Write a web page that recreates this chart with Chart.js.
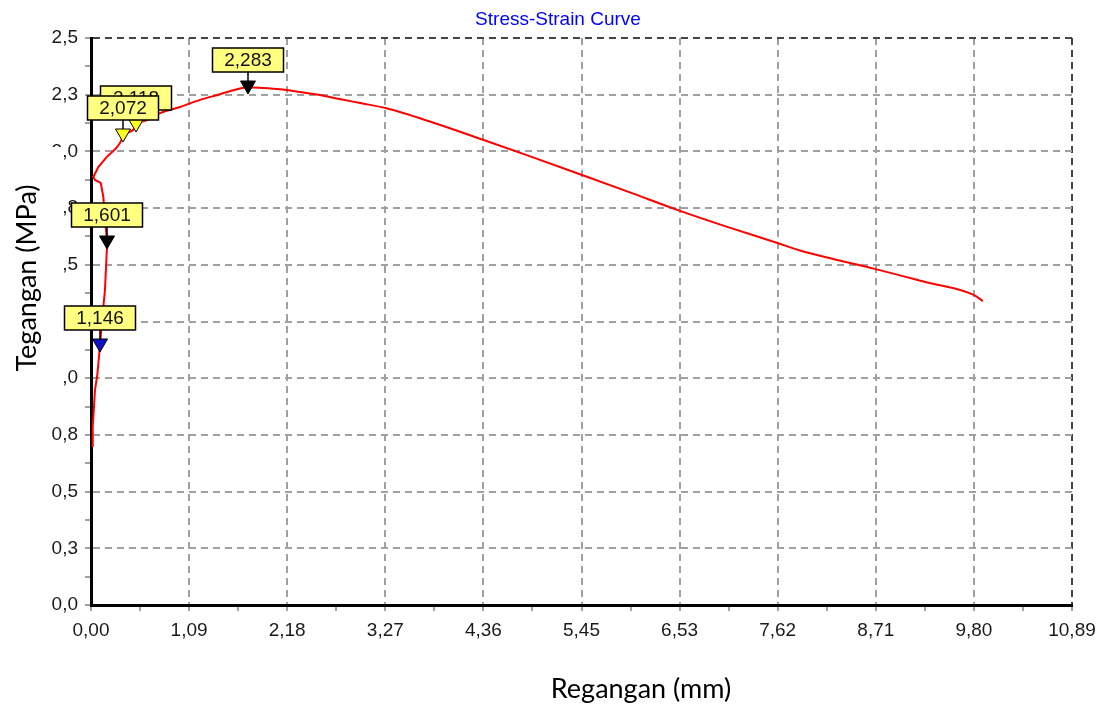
<!DOCTYPE html>
<html>
<head>
<meta charset="utf-8">
<title>Stress-Strain Curve</title>
<script src="https://cdn.jsdelivr.net/npm/chart.js@4.4.1/dist/chart.umd.min.js"></script>
<style>
  body { margin: 0; background: #fff; }
  #wrap { width: 1104px; height: 711px; }
</style>
</head>
<body>
<div id="wrap"><canvas id="stress_chart" width="1104" height="711"></canvas></div>
<script>
// elastic / yield part: strain (mm) vs stress (MPa), strain goes back and forth here
var riseStrain = [0.019, 0.019, 0.033, 0.044, 0.07, 0.092, 0.10, 0.119, 0.155, 0.18, 0.155, 0.137, 0.108, 0.044, 0.026, 0.081, 0.174];
var riseStress = [0.697, 0.785, 0.873, 0.948, 1.014, 1.111, 1.146, 1.243, 1.389, 1.601, 1.698, 1.799, 1.861, 1.874, 1.887, 1.931, 1.975];

// hardening and necking part, strain increasing
var mainStrain = [0.174, 0.322, 0.36, 0.466, 0.50, 0.62, 0.766, 0.988, 1.21, 1.43, 1.60, 1.74, 1.90, 2.10, 2.32, 2.54, 2.76, 2.99, 3.27, 3.81, 4.36, 4.90, 5.45, 5.99, 6.53, 7.08, 7.62, 7.87, 8.17, 8.71, 9.26, 9.80, 9.90];
var mainStress = [1.975, 2.037, 2.072, 2.094, 2.118, 2.138, 2.169, 2.196, 2.227, 2.252, 2.272, 2.283, 2.280, 2.274, 2.262, 2.249, 2.231, 2.213, 2.191, 2.125, 2.050, 1.975, 1.896, 1.818, 1.739, 1.665, 1.596, 1.563, 1.532, 1.481, 1.424, 1.367, 1.340];

// flagged points (drawn in this order)
var markerStrain = [0.10, 0.18, 0.50, 0.36, 1.74];
var markerStress = [1.146, 1.601, 2.118, 2.072, 2.283];
var markerFill = ['#1010c8', '#000000', '#ffff20', '#ffff20', '#000000'];

var xTickLabels = ['0,00', '1,09', '2,18', '3,27', '4,36', '5,45', '6,53', '7,62', '8,71', '9,80', '10,89'];
var yTickLabels = ['0,0', '0,3', '0,5', '0,8', '1,0', '1,3', '1,5', '1,8', '2,0', '2,3', '2,5'];

var tickFont = { family: 'Liberation Sans, Arial, sans-serif', size: 19 };

function fmt(v) {
  return v.toFixed(3).replace('.', ',');
}

function toPoints(xs, ys) {
  return xs.map(function(s, i) { return { x: s, y: ys[i] }; });
}

var markerPlugin = {
  id: 'markers',
  afterDatasetsDraw: function(chart) {
    var ctx = chart.ctx, xs = chart.scales.x, ys = chart.scales.y;
    ctx.save();
    ctx.font = '19px Liberation Sans, Arial, sans-serif';
    ctx.textAlign = 'center';
    ctx.textBaseline = 'middle';
    for (var i = 0; i < markerStress.length; i++) {
      var px = Math.round(xs.getPixelForValue(markerStrain[i]));
      var py = Math.round(ys.getPixelForValue(markerStress[i]));
      // label box
      var bw = 71, bh = 24, bx = px - 35.5, by = py - 15 - bh;
      ctx.fillStyle = '#ffff80';
      ctx.fillRect(bx, by, bw, bh);
      ctx.strokeStyle = '#000';
      ctx.lineWidth = 1.5;
      ctx.strokeRect(bx, by, bw, bh);
      ctx.fillStyle = '#111';
      ctx.fillText(fmt(markerStress[i]), px, by + bh / 2 + 1);
      // pointer
      ctx.beginPath();
      ctx.moveTo(px, by + bh);
      ctx.lineTo(px, py - 6);
      ctx.stroke();
      ctx.beginPath();
      ctx.moveTo(px - 7.5, py - 6);
      ctx.lineTo(px + 7.5, py - 6);
      ctx.lineTo(px, py + 7);
      ctx.closePath();
      ctx.fillStyle = markerFill[i];
      ctx.fill();
      ctx.lineWidth = 1;
      ctx.stroke();
    }
    ctx.restore();
  }
};

// chart title and axis captions (captions sit in white boxes over the chart)
var captionPlugin = {
  id: 'captions',
  afterDraw: function(chart) {
    var ctx = chart.ctx;
    ctx.save();
    ctx.textAlign = 'center';
    ctx.textBaseline = 'middle';
    ctx.fillStyle = '#0000ff';
    ctx.font = '19px Liberation Sans, Arial, sans-serif';
    ctx.fillText('Stress-Strain Curve', 558, 20);

    ctx.fillStyle = '#fff';
    ctx.fillRect(0, 147, 62, 248);
    ctx.fillStyle = '#000';
    ctx.font = '27px Lato, sans-serif';
    ctx.fillText('Regangan (mm)', 641, 689);
    ctx.translate(27, 278);
    ctx.rotate(-Math.PI / 2);
    ctx.fillText('Tegangan (MPa)', 0, 0);
    ctx.restore();
  }
};

function gridColor(c) {
  if (c.index % 2) return 'rgba(0,0,0,0)';
  return c.index === 20 ? '#444' : '#a0a0a0';
}

var stress_chart = new Chart(document.getElementById('stress_chart'), {
  type: 'scatter',
  data: {
    datasets: [{
      data: toPoints(riseStrain, riseStress),
      showLine: true,
      borderColor: '#ff0000',
      borderWidth: 2,
      pointRadius: 0,
      tension: 0
    }, {
      data: toPoints(mainStrain, mainStress),
      showLine: true,
      borderColor: '#ff0000',
      borderWidth: 2,
      pointRadius: 0,
      cubicInterpolationMode: 'monotone'
    }]
  },
  options: {
    responsive: false,
    animation: false,
    layout: { padding: { left: 0, right: 32, top: 38, bottom: 0 } },
    plugins: {
      legend: { display: false },
      tooltip: { enabled: false },
      title: { display: false }
    },
    scales: {
      x: {
        type: 'linear',
        min: 0,
        max: 10.89,
        afterFit: function(s) { s.height = 106; },
        ticks: {
          stepSize: 0.5445,
          autoSkip: false,
          maxRotation: 0,
          padding: 8,
          color: '#1a1a1a',
          font: tickFont,
          callback: function(v, i) { return i % 2 ? '' : xTickLabels[i / 2]; }
        },
        grid: {
          color: gridColor,
          lineWidth: 2,
          tickColor: '#808080',
          tickLength: 6,
          tickWidth: 1.5
        },
        border: { display: true, color: '#000', width: 3, dash: [7, 5] }
      },
      y: {
        min: 0,
        max: 2.5,
        afterFit: function(s) { s.width = 91; },
        ticks: {
          stepSize: 0.125,
          autoSkip: false,
          padding: 7,
          color: '#1a1a1a',
          font: tickFont,
          callback: function(v, i) { return i % 2 ? '' : yTickLabels[i / 2]; }
        },
        grid: {
          color: gridColor,
          lineWidth: 2,
          tickColor: '#808080',
          tickLength: 6,
          tickWidth: 1.5
        },
        border: { display: true, color: '#000', width: 3, dash: [7, 5] }
      }
    }
  },
  plugins: [markerPlugin, captionPlugin]
});
</script>
</body>
</html>
